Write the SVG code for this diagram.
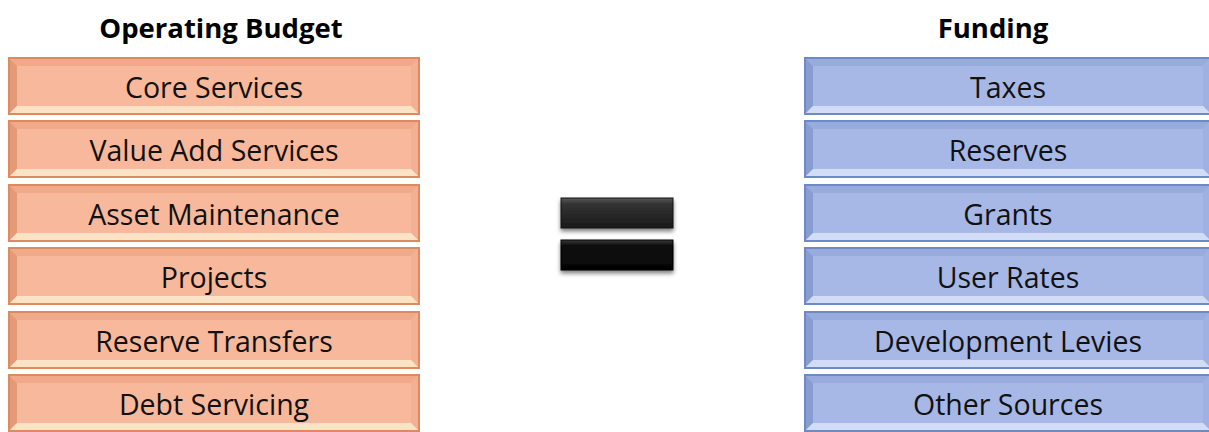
<svg xmlns="http://www.w3.org/2000/svg" width="1209" height="432" viewBox="0 0 1209 432">
<defs>
<style>
.hd{font-family:"Open Sans","Liberation Sans",sans-serif;font-weight:bold;font-size:27.5px;fill:#000;text-anchor:middle}
.lb{font-family:"Open Sans","Liberation Sans",sans-serif;font-size:28.5px;fill:#111;text-anchor:middle}
.o .m{fill:#F8B89B;stroke:#DE8A60;stroke-width:2}
.o .t{fill:#F0AA8A}.o .l{fill:#E49A78}.o .r{fill:#F2B194}.o .b{fill:#FCE3C6}
.u .m{fill:#A7B8E6;stroke:#6F88C6;stroke-width:2}
.u .t{fill:#98ABDD}.u .l{fill:#889DD2}.u .r{fill:#9FB1E0}.u .b{fill:#D2DCF5}
</style>
<linearGradient id="g1" x1="0" y1="0" x2="0" y2="1">
<stop offset="0" stop-color="#5a5a5a"/><stop offset="0.2" stop-color="#333"/><stop offset="1" stop-color="#1a1a1a"/>
</linearGradient>
<linearGradient id="g2" x1="0" y1="0" x2="0" y2="1">
<stop offset="0" stop-color="#3a3a3a"/><stop offset="0.2" stop-color="#0c0c0c"/><stop offset="1" stop-color="#050505"/>
</linearGradient>
<filter id="sh" x="-10%" y="-20%" width="120%" height="160%">
<feGaussianBlur in="SourceAlpha" stdDeviation="2"/><feOffset dy="3"/>
<feComponentTransfer><feFuncA type="linear" slope="0.5"/></feComponentTransfer>
<feMerge><feMergeNode/><feMergeNode in="SourceGraphic"/></feMerge>
</filter>
</defs>
<text class="hd" x="221" y="38">Operating Budget</text>
<text class="hd" x="993" y="38">Funding</text>

<g id="core" class="o"><rect class="m" x="9" y="58" width="410" height="56"/><polygon class="t" points="10,59 418,59 411,66 17,66"/><polygon class="l" points="10,59 17,66 17,106 10,113"/><polygon class="r" points="418,59 411,66 411,106 418,113"/><polygon class="b" points="10,113 17,106 411,106 418,113"/><rect x="17" y="66" width="394" height="40" fill="#F8B89B"/><text class="lb" x="214" y="98">Core Services</text></g>
<g id="value" class="o"><rect class="m" x="9" y="121" width="410" height="56"/><polygon class="t" points="10,122 418,122 411,129 17,129"/><polygon class="l" points="10,122 17,129 17,169 10,176"/><polygon class="r" points="418,122 411,129 411,169 418,176"/><polygon class="b" points="10,176 17,169 411,169 418,176"/><rect x="17" y="129" width="394" height="40" fill="#F8B89B"/><text class="lb" x="214" y="161">Value Add Services</text></g>
<g id="asset" class="o"><rect class="m" x="9" y="185" width="410" height="56"/><polygon class="t" points="10,186 418,186 411,193 17,193"/><polygon class="l" points="10,186 17,193 17,233 10,240"/><polygon class="r" points="418,186 411,193 411,233 418,240"/><polygon class="b" points="10,240 17,233 411,233 418,240"/><rect x="17" y="193" width="394" height="40" fill="#F8B89B"/><text class="lb" x="214" y="225">Asset Maintenance</text></g>
<g id="projects" class="o"><rect class="m" x="9" y="248" width="410" height="56"/><polygon class="t" points="10,249 418,249 411,256 17,256"/><polygon class="l" points="10,249 17,256 17,296 10,303"/><polygon class="r" points="418,249 411,256 411,296 418,303"/><polygon class="b" points="10,303 17,296 411,296 418,303"/><rect x="17" y="256" width="394" height="40" fill="#F8B89B"/><text class="lb" x="214" y="288">Projects</text></g>
<g id="reserveT" class="o"><rect class="m" x="9" y="312" width="410" height="56"/><polygon class="t" points="10,313 418,313 411,320 17,320"/><polygon class="l" points="10,313 17,320 17,360 10,367"/><polygon class="r" points="418,313 411,320 411,360 418,367"/><polygon class="b" points="10,367 17,360 411,360 418,367"/><rect x="17" y="320" width="394" height="40" fill="#F8B89B"/><text class="lb" x="214" y="352">Reserve Transfers</text></g>
<g id="debt" class="o"><rect class="m" x="9" y="375" width="410" height="56"/><polygon class="t" points="10,376 418,376 411,383 17,383"/><polygon class="l" points="10,376 17,383 17,423 10,430"/><polygon class="r" points="418,376 411,383 411,423 418,430"/><polygon class="b" points="10,430 17,423 411,423 418,430"/><rect x="17" y="383" width="394" height="40" fill="#F8B89B"/><text class="lb" x="214" y="415">Debt Servicing</text></g>

<g id="taxes" class="u"><rect class="m" x="805" y="58" width="406" height="56"/><polygon class="t" points="806,59 1210,59 1203,66 813,66"/><polygon class="l" points="806,59 813,66 813,106 806,113"/><polygon class="r" points="1210,59 1203,66 1203,106 1210,113"/><polygon class="b" points="806,113 813,106 1203,106 1210,113"/><rect x="813" y="66" width="390" height="40" fill="#A7B8E6"/><text class="lb" x="1008" y="98">Taxes</text></g>
<g id="reserves" class="u"><rect class="m" x="805" y="121" width="406" height="56"/><polygon class="t" points="806,122 1210,122 1203,129 813,129"/><polygon class="l" points="806,122 813,129 813,169 806,176"/><polygon class="r" points="1210,122 1203,129 1203,169 1210,176"/><polygon class="b" points="806,176 813,169 1203,169 1210,176"/><rect x="813" y="129" width="390" height="40" fill="#A7B8E6"/><text class="lb" x="1008" y="161">Reserves</text></g>
<g id="grants" class="u"><rect class="m" x="805" y="185" width="406" height="56"/><polygon class="t" points="806,186 1210,186 1203,193 813,193"/><polygon class="l" points="806,186 813,193 813,233 806,240"/><polygon class="r" points="1210,186 1203,193 1203,233 1210,240"/><polygon class="b" points="806,240 813,233 1203,233 1210,240"/><rect x="813" y="193" width="390" height="40" fill="#A7B8E6"/><text class="lb" x="1008" y="225">Grants</text></g>
<g id="userrates" class="u"><rect class="m" x="805" y="248" width="406" height="56"/><polygon class="t" points="806,249 1210,249 1203,256 813,256"/><polygon class="l" points="806,249 813,256 813,296 806,303"/><polygon class="r" points="1210,249 1203,256 1203,296 1210,303"/><polygon class="b" points="806,303 813,296 1203,296 1210,303"/><rect x="813" y="256" width="390" height="40" fill="#A7B8E6"/><text class="lb" x="1008" y="288">User Rates</text></g>
<g id="devlevies" class="u"><rect class="m" x="805" y="312" width="406" height="56"/><polygon class="t" points="806,313 1210,313 1203,320 813,320"/><polygon class="l" points="806,313 813,320 813,360 806,367"/><polygon class="r" points="1210,313 1203,320 1203,360 1210,367"/><polygon class="b" points="806,367 813,360 1203,360 1210,367"/><rect x="813" y="320" width="390" height="40" fill="#A7B8E6"/><text class="lb" x="1008" y="352">Development Levies</text></g>
<g id="other" class="u"><rect class="m" x="805" y="375" width="406" height="56"/><polygon class="t" points="806,376 1210,376 1203,383 813,383"/><polygon class="l" points="806,376 813,383 813,423 806,430"/><polygon class="r" points="1210,376 1203,383 1203,423 1210,430"/><polygon class="b" points="806,430 813,423 1203,423 1210,430"/><rect x="813" y="383" width="390" height="40" fill="#A7B8E6"/><text class="lb" x="1008" y="415">Other Sources</text></g>

<g id="equals" filter="url(#sh)">
<rect x="561" y="198" width="112" height="30" fill="url(#g1)" stroke="#111" stroke-width="1"/>
<rect x="561" y="240" width="112" height="30" fill="url(#g2)" stroke="#000" stroke-width="1"/>
</g>
</svg>
